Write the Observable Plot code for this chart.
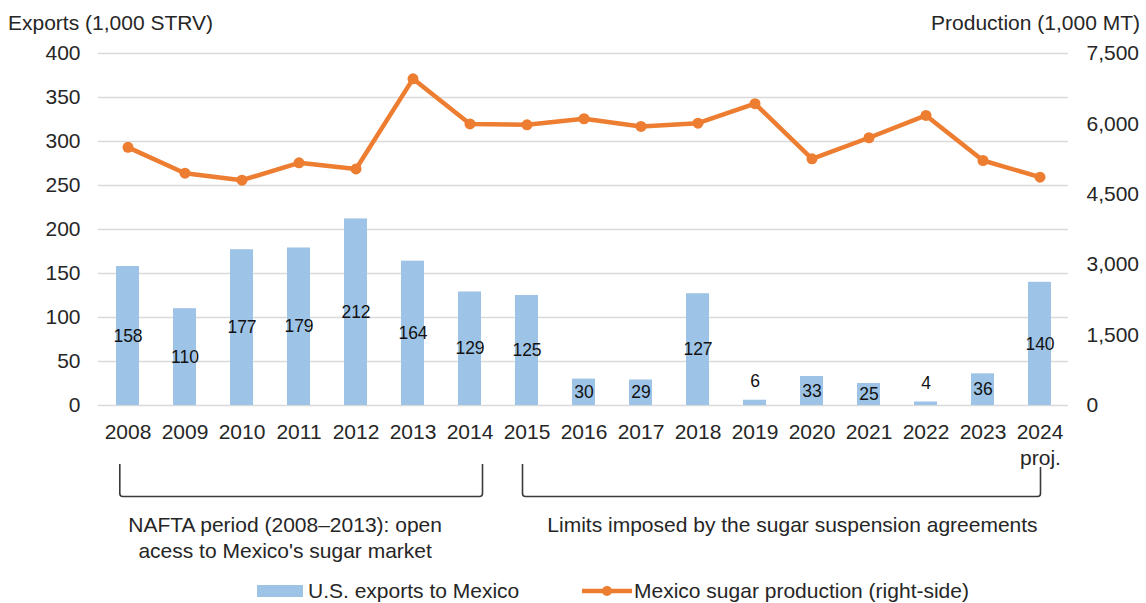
<!DOCTYPE html>
<html><head><meta charset="utf-8">
<script src="https://cdn.jsdelivr.net/npm/d3@7"></script>
<script src="https://cdn.jsdelivr.net/npm/@observablehq/plot@0.6"></script>
<style>html,body{margin:0;padding:0;background:#fff}svg{display:block}</style>
</head><body><div id="chart"></div>
<script>
// ---- data ----
const years = ["2008","2009","2010","2011","2012","2013","2014","2015","2016","2017","2018","2019","2020","2021","2022","2023","2024"];
const usExports = [158,110,177,179,212,164,129,125,30,29,127,6,33,25,4,36,140];
const mexProduction = [5500,4950,4800,5170,5040,6960,6000,5980,6110,5945,6015,6430,5255,5705,6180,5220,4865];
const leftTicks = [0,50,100,150,200,250,300,350,400];
const rightTicks = [0,1500,3000,4500,6000,7500];
const leftTitle = "Exports (1,000 STRV)";
const rightTitle = "Production (1,000 MT)";
const projNote = "proj.";
const periodNames = ["NAFTA period (2008–2013): open\nacess to Mexico's sugar market", "Limits imposed by the sugar suspension agreements"];
const periodFrom = ["2008","2015"];
const periodTo = ["2014","2024"];
const legendLabels = ["U.S. exports to Mexico", "Mexico sugar production (right-side)"];

// ---- styling ----
const FONT = "'Liberation Sans', Arial, Helvetica, sans-serif";
function hasFont(name){
  const c = document.createElement("canvas").getContext("2d");
  const s = "158 2012 abcMWxyz";
  c.font = "40px monospace"; const a = c.measureText(s).width;
  c.font = `40px "${name}", monospace`; const b = c.measureText(s).width;
  return Math.abs(a-b) > 0.5;
}
const narrow = hasFont("Liberation Sans Narrow");
const LABEL_FONT = narrow ? "'Liberation Sans Narrow', 'Liberation Sans', sans-serif" : FONT;
const LABEL_SIZE = narrow ? 21 : 17.5;
const BLUE = "#9dc3e6", ORANGE = "#ed7d31", INK = "#262626";

const data = years.map((year,i)=>({year, exp: usExports[i], prod: mexProduction[i]}));
const k = 400/7500; // right axis -> left axis units

// layout of annotations (pixel offsets)
const bracketLayout = [
  {dx1:-7.7, dx2:13, top1:59, top2:59, labelDx:-16},
  {dx1:-4, dx2:1, top1:59, top2:62, labelDx:11}
];

function annotations(index, scales, values, dims){
  const x = scales.x, bw = x.bandwidth(), cx = v => x(v) + bw/2;
  const base = dims.height - dims.marginBottom;
  const g = d3.create("svg:g").attr("font-family", FONT).attr("font-size", 21).attr("fill", INK).attr("text-anchor","start");
  // titles
  g.append("text").attr("x", 8).attr("y", 23).attr("dy","0.35em").attr("text-anchor","start").text(leftTitle);
  g.append("text").attr("x", dims.width-6).attr("y", 23).attr("dy","0.35em").attr("text-anchor","end").text(rightTitle);
  // proj.
  g.append("text").attr("x", cx("2024")+1).attr("y", base+53).attr("dy","0.35em").attr("text-anchor","middle").text(projNote);
  // brackets
  const bot = base + 91.5, r = 3;
  periodNames.forEach((name,i)=>{
    const L = bracketLayout[i];
    const x1 = cx(periodFrom[i]) + L.dx1, x2 = cx(periodTo[i]) + L.dx2;
    g.append("path")
      .attr("d", `M${x1},${base+L.top1}V${bot-r}Q${x1},${bot} ${x1+r},${bot}H${x2-r}Q${x2},${bot} ${x2},${bot-r}V${base+L.top2}`)
      .attr("fill","none").attr("stroke","#3a3a3a").attr("stroke-width",1.6);
    const lines = name.split("\n");
    const t = g.append("text").attr("x", (x1+x2)/2 + L.labelDx).attr("y", base+120).attr("text-anchor","middle");
    lines.forEach((ln,j)=> t.append("tspan").attr("x",(x1+x2)/2 + L.labelDx).attr("dy", j===0 ? "0.35em" : "1.2em").text(ln));
  });
  // legend
  const ly = dims.height - 12;
  g.append("rect").attr("x",257).attr("y",ly-6).attr("width",46).attr("height",12).attr("fill",BLUE);
  g.append("text").attr("x",308).attr("y",ly).attr("dy","0.35em").attr("text-anchor","start").text(legendLabels[0]);
  g.append("line").attr("x1",582).attr("x2",632).attr("y1",ly).attr("y2",ly).attr("stroke",ORANGE).attr("stroke-width",4.5);
  g.append("circle").attr("cx",607).attr("cy",ly).attr("r",5).attr("fill",ORANGE);
  g.append("text").attr("x",634).attr("y",ly).attr("dy","0.35em").attr("text-anchor","start").text(legendLabels[1]);
  return g.node();
}

const chart = Plot.plot({
  width: 1146, height: 603,
  marginTop: 53, marginBottom: 198, marginLeft: 98, marginRight: 78,
  style: {fontFamily: FONT, fontSize: "21px", color: INK, background: "#fff"},
  x: {type: "band", domain: years, paddingInner: 0.6, paddingOuter: 0.3, axis: null},
  y: {domain: [0, 400], axis: null},
  marks: [
    Plot.gridY(leftTicks, {stroke: "#d9d9d9", strokeOpacity: 1, strokeWidth: 1.5}),
    Plot.barY(data, {x: "year", y: "exp", fill: BLUE}),
    Plot.line(data, {x: "year", y: d => d.prod*k, stroke: ORANGE, strokeWidth: 4.5}),
    Plot.dot(data, {x: "year", y: d => d.prod*k, r: 5.5, fill: ORANGE}),
    Plot.text(data.filter(d => d.exp >= 10), {x: "year", y: d => d.exp/2, text: d => String(d.exp), fontFamily: LABEL_FONT, fontSize: LABEL_SIZE, fill: "#111"}),
    Plot.text(data.filter(d => d.exp < 10), {x: "year", y: "exp", text: d => String(d.exp), dy: -19, fontFamily: LABEL_FONT, fontSize: LABEL_SIZE, fill: "#111"}),
    Plot.axisY(leftTicks, {anchor: "left", tickSize: 0, tickPadding: 18, label: null, fontSize: 21, fill: INK}),
    Plot.axisY(rightTicks.map(t => t*k), {anchor: "right", tickSize: 0, tickPadding: 18, label: null, fontSize: 21, fill: INK, tickFormat: v => d3.format(",")(Math.round(v/k))}),
    Plot.axisX({tickSize: 0, tickPadding: 19, label: null, fontSize: 21, fill: INK}),
    annotations
  ]
});
document.getElementById("chart").appendChild(chart);
</script>
</body></html>
